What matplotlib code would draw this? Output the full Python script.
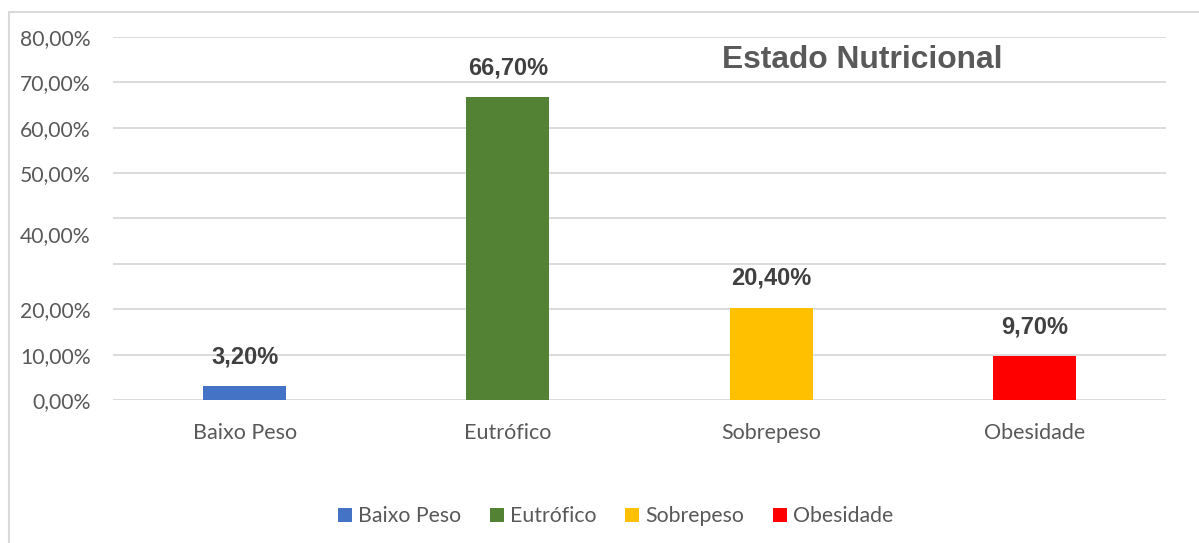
import matplotlib
matplotlib.use('Agg')
import matplotlib.pyplot as plt
from matplotlib.patches import Rectangle

categories = ['Baixo Peso', 'Eutrófico', 'Sobrepeso', 'Obesidade']
values = [3.2, 66.7, 20.4, 9.7]
colors = ['#4472C4', '#548235', '#FFC000', '#FF0000']

# the original axis labels are misplaced (no 30%, 40% sits between grid lines)
ytick_pos = [0, 10, 20, 36.5, 50, 60, 70, 80]
ytick_labels = ['0,00%', '10,00%', '20,00%', '40,00%', '50,00%', '60,00%', '70,00%', '80,00%']
grid_vals = [0, 10, 20, 30, 40, 50, 60, 70, 80]

text_font = 'Lato'
bold_font = 'Liberation Sans'
gray = '#595959'

fig = plt.figure(figsize=(11.99, 5.43), dpi=100)
ax = fig.add_axes([113 / 1199, 1 - 400.3 / 543, 1053 / 1199, (400.3 - 36.7) / 543])

x = range(len(categories))
bars = ax.bar(x, values, width=0.315, color=colors, label=categories, zorder=3)

for g in grid_vals:
    ax.axhline(g, color='#d9d9d9', linewidth=1.3, zorder=1)

for i, v in enumerate(values):
    ax.annotate(f'{v:.2f}%'.replace('.', ','), (i, v), xytext=(0, 21),
                textcoords='offset points', ha='center', va='center',
                fontsize=17, fontweight='bold', color='#404040', family=bold_font)

ax.set_xlim(-0.5, 3.5)
ax.set_ylim(0, 80)
ax.set_xticks(list(x))
ax.set_xticklabels(categories, fontsize=15.5, color=gray, family=text_font)
ax.set_yticks(ytick_pos)
ax.set_yticklabels(ytick_labels, fontsize=15.2, color=gray, family=text_font)
ax.tick_params(axis='both', length=0)
ax.tick_params(axis='x', pad=16)
ax.tick_params(axis='y', pad=16)
for s in ax.spines.values():
    s.set_visible(False)

fig.text(862 / 1199, 1 - 60 / 543, 'Estado Nutricional', ha='center', va='center',
         fontsize=22.9, fontweight='bold', color=gray, family=bold_font)

leg = fig.legend(handles=bars, labels=categories, loc='center', bbox_to_anchor=(615.5 / 1199, 1 - 516.5 / 543),
                 ncol=4, frameon=False, handlelength=0.66, handleheight=0.66, handletextpad=0.28,
                 columnspacing=1.36, borderpad=0, prop={'family': text_font, 'size': 15.3})
for t in leg.get_texts():
    t.set_color(gray)

fig.add_artist(Rectangle((9 / 1199, -0.1), 1.2, 1.1 - 12.5 / 543, transform=fig.transFigure,
                         fill=False, edgecolor='#d9d9d9', linewidth=1.5))

fig.savefig('out.png', dpi=100)
